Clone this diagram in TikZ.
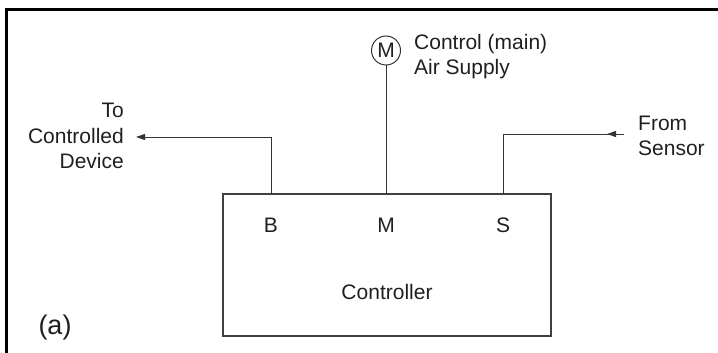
\documentclass[tikz,border=0pt]{standalone}
\usepackage{fontspec}
\setmainfont{Liberation Sans}
\usetikzlibrary{arrows.meta}
\begin{document}
\begin{tikzpicture}[x=1pt,y=-1pt,
  lbl/.style={font=\fontsize{21}{25.5}\selectfont, inner sep=0pt, text=black!88},
  biglbl/.style={font=\fontsize{27}{30}\selectfont, inner sep=0pt, text=black!88},
  wire/.style={line width=1pt, draw=black!80},
  arr/.style={-{Triangle[length=9pt,width=6pt]}},
  framestyle/.style={line width=3pt, draw=black},
  boxstyle/.style={draw=black!75, line width=1.4pt, minimum width=328pt, minimum height=142pt, inner sep=0pt}
  ]
\useasboundingbox (0,0) rectangle (718,353);
% frame
\coordinate (fbl) at (6.8,360);
\coordinate (ftl) at (6.8,9.5);
\coordinate (ftr) at (725,9.5);
\draw[framestyle] (fbl) -- (ftl) -- (ftr);
% controller box
\node[boxstyle] (ctrl) at (387,265) {};
\node[lbl, anchor=base] (lB) at (271,232) {B};
\node[lbl, anchor=base] (lM) at (386,232) {M};
\node[lbl, anchor=base] (lS) at (503,232) {S};
\node[lbl, anchor=base] (lC) at (387,299) {Controller};
\node[biglbl, anchor=base] (la) at (55,334.5) {(a)};
% ports
\coordinate (pB) at (271,194);
\coordinate (pM) at (386,194);
\coordinate (pS) at (503,194);
% main air supply
\node[lbl, wire, circle, minimum size=29pt, inner sep=0pt] (mc) at (386,50.5) {M};
\node[lbl, align=left, anchor=west] (air) at (414,56.5) {Control (main)\\Air Supply};
\draw[wire] (mc.south) -- (pM);
% to controlled device
\node[lbl, align=right, anchor=east] (dev) at (124,136) {To\\Controlled\\Device};
\coordinate (btip) at (136,137);
\draw[wire, arr] (pB) |- (btip);
% from sensor
\node[lbl, align=left, anchor=west] (sen) at (638,136) {From\\Sensor};
\coordinate (sstart) at (624,134);
\draw[wire] (sstart) -| (pS);
\draw[wire, arr] (sstart) -- ++(-17,0);
\end{tikzpicture}
\end{document}
